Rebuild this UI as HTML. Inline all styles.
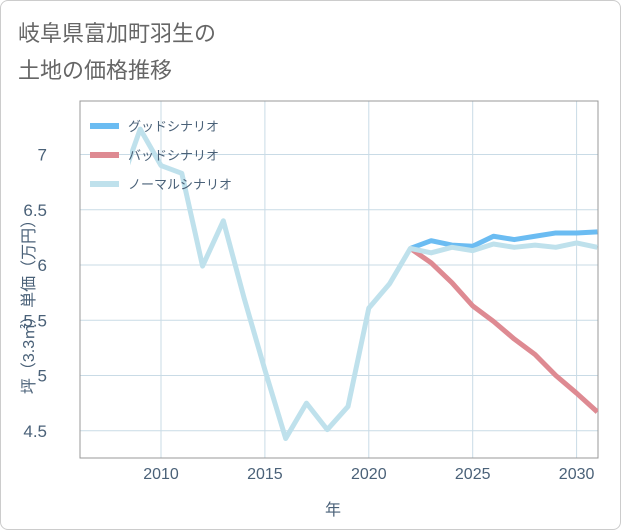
<!DOCTYPE html>
<html><head><meta charset="utf-8"><style>
body{margin:0;background:#fff;font-family:"Liberation Sans","Noto Sans CJK JP",sans-serif}
#wrap{position:relative;width:619px;height:528px;border:1px solid #ccc;border-radius:8px;overflow:hidden}
</style></head><body>
<div id="wrap">
<svg id="chart" width="619" height="528">
<text x="17" y="40" font-size="22" fill="#666">岐阜県富加町羽生の</text>
<text x="17" y="77" font-size="22" fill="#666">土地の価格推移</text>
</svg>
</div>
<script>
const years=[2008,2009,2010,2011,2012,2013,2014,2015,2016,2017,2018,2019,2020,2021,2022,2023,2024,2025,2026,2027,2028,2029,2030,2031];
const normal=[6.7,7.23,6.9,6.83,5.99,6.4,5.7,5.05,4.43,4.75,4.51,4.72,5.61,5.83,6.15,6.11,6.16,6.13,6.19,6.16,6.18,6.16,6.2,6.16];
const goodYears=[2022,2023,2024,2025,2026,2027,2028,2029,2030,2031];
const good=[6.15,6.22,6.18,6.17,6.26,6.23,6.26,6.29,6.29,6.3];
const bad=[6.15,6.02,5.84,5.63,5.49,5.33,5.19,5.0,4.84,4.67];
const xTicks=[2010,2015,2020,2025,2030];
const yTicks=[4.5,5,5.5,6,6.5,7];
const L=79,R=597,T=100,B=457;
const X=y=>160+(y-2010)*20.78;
const Y=v=>264-(v-6)*110.5;
const svg=document.getElementById('chart');const NS='http://www.w3.org/2000/svg';
function mk(t,a){const e=document.createElementNS(NS,t);for(const k in a)e.setAttribute(k,a[k]);svg.appendChild(e);return e;}
svg.appendChild(Object.assign(document.createElementNS(NS,'defs'),{innerHTML:'<clipPath id="pc"><rect x="129" y="100" width="468" height="357"/></clipPath>'}));
xTicks.forEach(t=>{const l=mk('line',{x1:X(t),x2:X(t),y1:T,y2:B,stroke:'#c9dbe6','stroke-width':1});


const tx=mk('text',{x:X(t),y:478,'text-anchor':'middle','font-size':16,fill:'#4a6178'});tx.textContent=t;

});
yTicks.forEach(t=>{const l=mk('line',{x1:L,x2:R,y1:Y(t),y2:Y(t),stroke:'#c9dbe6','stroke-width':1});


const tx=mk('text',{x:46,y:Y(t)+6,'text-anchor':'end','font-size':17,fill:'#4a6178'});tx.textContent=t;

});
const fr=mk('rect',{x:L,y:T,width:R-L,height:B-T,fill:'none',stroke:'#999','stroke-width':1});


function line(xs,vs,c,n){const p=mk('polyline',{points:xs.map((y,i)=>X(y)+','+Y(vs[i])).join(' '),fill:'none',stroke:c,'stroke-width':5,'stroke-linejoin':'round','clip-path':'url(#pc)'});

}
line(goodYears,bad,'#de8a92','bad-scenario-line');
line(goodYears,good,'#6bbcf2','good-scenario-line');
line(years,normal,'#bfe1ec','normal-scenario-line');
const leg=[['グッドシナリオ','#6bbcf2'],['バッドシナリオ','#de8a92'],['ノーマルシナリオ','#bfe1ec']];
leg.forEach((d,i)=>{const y=125+i*29;const r=mk('rect',{x:89,y:y-3,width:29,height:6,fill:d[1]});


const t=mk('text',{x:127,y:y+5,'font-size':13,fill:'#4a6178'});t.textContent=d[0];

});
const xt=mk('text',{x:332,y:514,'text-anchor':'middle','font-size':16,fill:'#4a6178'});xt.textContent='年';


const yt=mk('text',{x:0,y:0,'text-anchor':'middle','font-size':16,fill:'#4a6178',transform:'translate(33,302) rotate(-90)'});yt.textContent='坪（3.3㎡）単価（万円）';


</script>
</body></html>
